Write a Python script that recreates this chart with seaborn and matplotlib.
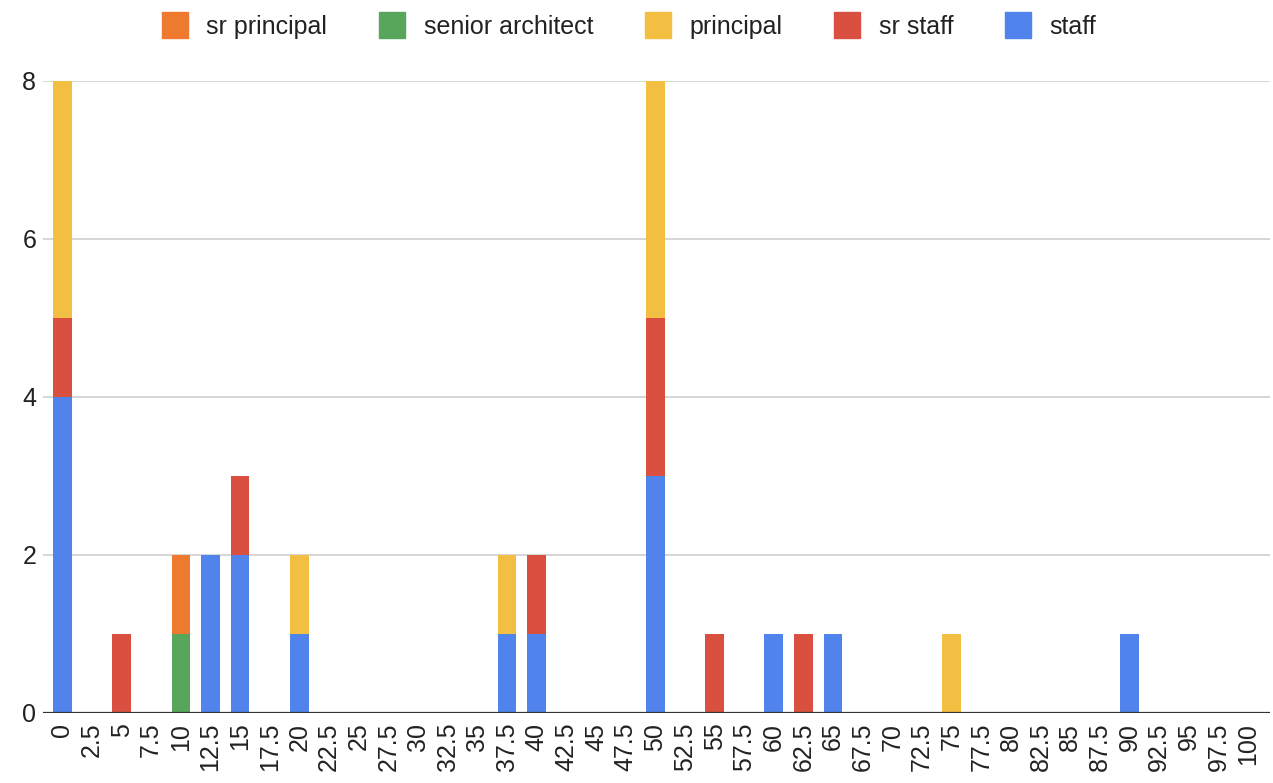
import matplotlib
matplotlib.use("Agg")
import matplotlib.pyplot as plt
import seaborn as sns
import pandas as pd
import numpy as np
from matplotlib.lines import Line2D

categories = ["0", "2.5", "5", "7.5", "10", "12.5", "15", "17.5", "20", "22.5", "25", "27.5",
              "30", "32.5", "35", "37.5", "40", "42.5", "45", "47.5", "50", "52.5", "55", "57.5",
              "60", "62.5", "65", "67.5", "70", "72.5", "75", "77.5", "80", "82.5", "85", "87.5",
              "90", "92.5", "95", "97.5", "100"]

staff = {"0": 4, "12.5": 2, "15": 2, "20": 1, "37.5": 1, "40": 1, "50": 3, "60": 1, "65": 1, "90": 1}
sr_staff = {"0": 1, "5": 1, "15": 1, "40": 1, "50": 2, "55": 1, "62.5": 1}
principal = {"0": 3, "20": 1, "37.5": 1, "50": 3, "75": 1}
senior_architect = {"10": 1}
sr_principal = {"10": 1}

series_names = ["staff", "sr staff", "principal", "senior architect", "sr principal"]
series_vals = [staff, sr_staff, principal, senior_architect, sr_principal]
colors = {"staff": "#5083EC", "sr staff": "#DA5040", "principal": "#F2BF42",
          "senior architect": "#58A55C", "sr principal": "#EE7A30"}

df = pd.DataFrame({"bucket": categories})
for name, vals in zip(series_names, series_vals):
    df[name] = [vals.get(c, 0) for c in categories]
cum = df[series_names].cumsum(axis=1)

sns.set_style("white")
plt.rcParams['font.family'] = ['Liberation Sans', 'DejaVu Sans']

fig = plt.figure(figsize=(12.73, 7.83), dpi=100)
ax = fig.add_axes([0.034, 0.0894, 0.964, 0.8072])

for name in reversed(series_names):
    sns.barplot(x=df["bucket"], y=cum[name], order=categories, color=colors[name],
                width=0.63, ax=ax, saturation=1, linewidth=0, zorder=3)

ax.set_ylim(0, 8)
ax.set_xlim(-0.64, 40.75)
ax.set_yticks([0, 2, 4, 6, 8])
ax.set_yticklabels(["0", "2", "4", "6", "8"])
ax.yaxis.grid(True, color="#D0D0D0", linewidth=1.2, zorder=0)
ax.xaxis.grid(False)
for s in ax.spines.values():
    s.set_visible(False)
ax.axhline(0, color="#333333", linewidth=1.6, zorder=4)
ax.set_xlabel("")
ax.set_ylabel("")
ax.tick_params(axis="x", labelrotation=90, labelsize=18, colors="#222222", length=0, pad=7)
ax.tick_params(axis="y", labelsize=18, colors="#222222", length=0, pad=5)

legend_order = ["sr principal", "senior architect", "principal", "sr staff", "staff"]
handles = [Line2D([0], [0], marker="s", linestyle="none", markersize=19,
                  markerfacecolor=colors[n], markeredgecolor=colors[n]) for n in legend_order]
fig.legend(handles, legend_order, loc="center", bbox_to_anchor=(0.494, 0.966), ncol=5,
           frameon=False, fontsize=18, handlelength=1.1, handletextpad=0.7, columnspacing=2.05,
           labelcolor="#222222")

fig.savefig("out.png", dpi=100)
